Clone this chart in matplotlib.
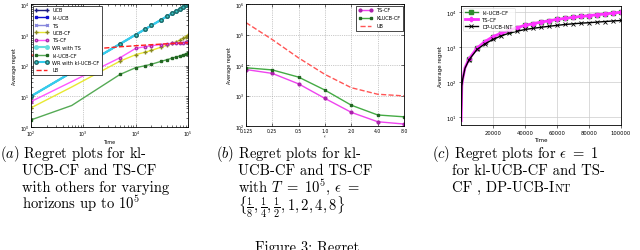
import numpy as np
import matplotlib as mpl
import matplotlib.pyplot as plt

# ---- (a) regret vs horizon ----
T_a = [100, 600, 5000, 10000, 15000, 20000, 30000, 40000, 50000, 60000, 70000, 80000, 90000, 100000]
ucb = [10, 60, 500, 1000, 1500, 2000, 3000, 4000, 5000, 6000, 7000, 8000, 9000, 10000]
kl_ucb = [10, 60, 500, 1000, 1500, 2000, 3000, 4000, 5000, 6000, 7000, 8000, 9000, 10000]
ts = [10, 60, 500, 1000, 1500, 2000, 3000, 4000, 5000, 6000, 7000, 8000, 9000, 10000]
ucb_cf = [4.2, 20, 138, 225, 270, 310, 390, 460, 520, 590, 670, 760, 870, 1000]
ts_cf = [6.7, 30, 178, 360, 410, 440, 480, 505, 525, 540, 550, 558, 564, 570]
wr_ts = [10, 60, 500, 1000, 1500, 2000, 3000, 4000, 5000, 6000, 7000, 8000, 9000, 10000]
kl_ucb_cf = [1.7, 5, 51, 85, 98, 110, 135, 155, 175, 190, 205, 220, 240, 260]
wr_kl_ucb_cf = [10, 60, 500, 1000, 1500, 2000, 3000, 4000, 5000, 6000, 7000, 8000, 9000, 10000]
lb = [215, 305, 405, 440, 460, 475, 495, 510, 520, 528, 535, 540, 545, 550]

# ---- (b) regret vs epsilon ----
eps = [0.125, 0.25, 0.5, 1.0, 2.0, 4.0, 8.0]
eps_labels = ['0.125', '0.25', '0.5', '1.0', '2.0', '4.0', '8.0']
ts_cf_b = [7100, 5300, 2400, 800, 280, 138, 116]
klucb_cf_b = [8100, 6900, 4000, 1500, 480, 230, 200]
ub_b = [245000, 68000, 17000, 4900, 1800, 1100, 970]

# ---- (c) regret for eps = 1 ----
T_c = [100, 500, 1000, 2500, 5000, 10000, 15000, 20000, 25000, 30000, 35000, 40000,
       45000, 50000, 55000, 60000, 65000, 70000, 75000, 80000, 85000, 90000, 95000, 100000]
kl_ucb_cf_c = [8, 75, 115, 255, 460, 930, 1430, 1980, 2480, 2980, 3580, 4180,
               4680, 5180, 5680, 6180, 6630, 7080, 7530, 7980, 8430, 8880, 9430, 9980]
ts_cf_c = [8, 80, 120, 260, 465, 940, 1450, 2000, 2500, 3000, 3600, 4200,
           4700, 5200, 5700, 6200, 6650, 7100, 7550, 8000, 8450, 8900, 9450, 10000]
dp_ucb_int = [8, 78, 118, 250, 435, 860, 1250, 1660, 2100, 2500, 2850, 3200,
              3450, 3700, 3950, 4200, 4450, 4650, 4850, 5000, 5200, 5400, 5600, 5800]

W, H = 640, 251
mpl.rcParams['mathtext.fontset'] = 'cm'
mpl.rcParams['font.family'] = 'DejaVu Sans'

fig = plt.figure(figsize=(W / 100, H / 100), dpi=100)


def box(x0, y0, x1, y1):
    return [x0 / W, 1 - y1 / H, (x1 - x0) / W, (y1 - y0) / H]


def classic_axes(ax):
    ax.tick_params(which='both', direction='in', top=True, right=True,
                   labelsize=3.3, pad=1.2, width=0.4)
    ax.tick_params(which='major', length=2.5)
    ax.tick_params(which='minor', length=1.3)
    ax.grid(True, which='major', color='#999999', linestyle=':', linewidth=0.5)
    for s in ax.spines.values():
        s.set_linewidth(0.6)


# (a)
ax = fig.add_axes(box(31, 5, 188, 128))
mk = [0] + list(range(2, len(T_a)))
ax.loglog(T_a, ucb, color='#1c1c80', marker='+', ms=3, lw=1, markevery=mk, label='UCB')
ax.loglog(T_a, kl_ucb, color='#1010d0', marker='s', ms=2, lw=1, markevery=mk, label='kl-UCB')
ax.loglog(T_a, ts, color='#8888dd', marker='x', ms=2, lw=1, markevery=mk, label='TS')
ax.loglog(T_a, ucb_cf, color='#e8e830', marker='+', ms=3, mec='#888822', lw=1, markevery=mk, label='UCB-CF')
ax.loglog(T_a, ts_cf, color='#ff55ff', marker='o', ms=1.8, mec='#aa33aa', lw=1, markevery=mk, label='TS-CF')
ax.loglog(T_a, wr_ts, color='#66dddd', marker='o', ms=2.5, lw=1.5, markevery=mk, label='WR with TS')
ax.loglog(T_a, kl_ucb_cf, color='#55aa55', marker='s', ms=1.8, mfc='#226622', mec='#226622', lw=1,
          markevery=mk, label='kl-UCB-CF')
ax.loglog(T_a, wr_kl_ucb_cf, color='#33ccee', marker='o', ms=2.5, mfc='#33cccc', mec='#226666', lw=1.5,
          markevery=mk, label='WR with kl-UCB-CF')
ax.loglog(T_a, lb, color='#ff2020', ls='--', lw=1, label='LB')
ax.set_xlim(100, 100000)
ax.set_ylim(1, 10000)
classic_axes(ax)
ax.set_xlabel('Time', fontsize=3.5, labelpad=0.5)
ax.set_ylabel('Average regret', fontsize=3.5, labelpad=2)
ax.legend(loc='upper left', fontsize=3.6, numpoints=2, handlelength=2.8, labelspacing=0.5,
          borderpad=0.4, frameon=True, fancybox=False, edgecolor='k', framealpha=1,
          borderaxespad=0.3).get_frame().set_linewidth(0.5)

# (b)
ax = fig.add_axes(box(246, 5, 404, 127))
ax.plot(eps, ts_cf_b, color='#ee44ee', marker='o', ms=2, mfc='#aa22aa', mec='#aa22aa', lw=1, label='TS-CF')
ax.plot(eps, klucb_cf_b, color='#44aa44', marker='s', ms=2, mfc='#226622', mec='#226622', lw=1, label='KLUCB-CF')
ax.plot(eps, ub_b, color='#ff5555', ls='--', lw=1, label='UB')
ax.set_xscale('log', base=2)
ax.set_yscale('log')
ax.set_xticks(eps)
ax.set_xticklabels(eps_labels)
ax.minorticks_off()
ax.set_xlim(0.125, 8)
ax.set_ylim(100, 1e6)
classic_axes(ax)
ax.set_xlabel(r'$\epsilon$', fontsize=3.5, labelpad=0.5)
ax.set_ylabel('Average regret', fontsize=3.5, labelpad=2)
ax.legend(loc='upper right', fontsize=3.6, numpoints=2, handlelength=2.8, labelspacing=0.6,
          borderpad=0.4, fancybox=False, edgecolor='k', framealpha=1,
          borderaxespad=0.3).get_frame().set_linewidth(0.5)

# (c)
ax = fig.add_axes(box(461, 7, 621, 126))
mc = slice(4, None)
ax.plot(T_c, kl_ucb_cf_c, color='#2e8b2e', marker='s', ms=2.5, lw=1, markevery=mc, label='kl-UCB-CF')
ax.plot(T_c, ts_cf_c, color='#ff33ff', marker='P', ms=3, lw=2, markevery=mc, label='TS-CF')
ax.plot(T_c, dp_ucb_int, color='k', marker='x', ms=2.5, mew=0.6, lw=1, markevery=mc, label='DP-UCB-INT')
ax.set_yscale('log')
ax.set_xlim(0, 100000)
ax.set_ylim(6, 15000)
ax.set_xticks([20000, 40000, 60000, 80000, 100000])
ax.minorticks_off()
ax.tick_params(labelsize=3.8, pad=1.5, length=1.8, width=0.4)
ax.grid(True, color='#cccccc', linewidth=0.5)
for s in ax.spines.values():
    s.set_linewidth(0.6)
ax.set_xlabel('Time', fontsize=4, labelpad=1.5)
ax.set_ylabel('Average regret', fontsize=4, labelpad=1.5)
ax.legend(loc='upper left', fontsize=3.8, handlelength=2.5, labelspacing=0.4,
          borderpad=0.4, framealpha=0.8, borderaxespad=0.3).get_frame().set_linewidth(0.4)

# captions
cap = dict(fontsize=10.5, family='cmr10', va='baseline')


def caption(x, y, s, **kw):
    d = dict(cap)
    d.update(kw)
    return fig.text(x / W, 1 - y / H, s, **d)


ys = [158, 175, 192, 209]
caption(0, ys[0], r'$(a)$ Regret plots for kl-')
caption(22, ys[1], 'UCB-CF and TS-CF')
caption(22, ys[2], 'with others for varying')
caption(22, ys[3], r'horizons up to $10^5$')

caption(216, ys[0], r'$(b)$ Regret plots for kl-')
caption(238, ys[1], 'UCB-CF and TS-CF')
caption(238, ys[2], r'with $T\ =\ 10^5$, $\epsilon\ =$')
caption(238, ys[3] + 3, r'$\{\frac{1}{8},\frac{1}{4},\frac{1}{2},1,2,4,8\}$')

caption(432, ys[0], r'$(c)$ Regret plots for $\epsilon\ =\ 1$')
caption(452, ys[1], 'for kl-UCB-CF and TS-')
t = caption(452, ys[2], 'CF , DP-UCB-I')
r = fig.canvas.get_renderer()
x_end = t.get_window_extent(r).x1
fig.text(x_end / fig.bbox.width, 1 - ys[2] / H, 'NT', fontsize=8, family='cmr10', va='baseline')

caption(255, 252, 'Figure 3: Regret')

fig.savefig('out.png', dpi=100)
